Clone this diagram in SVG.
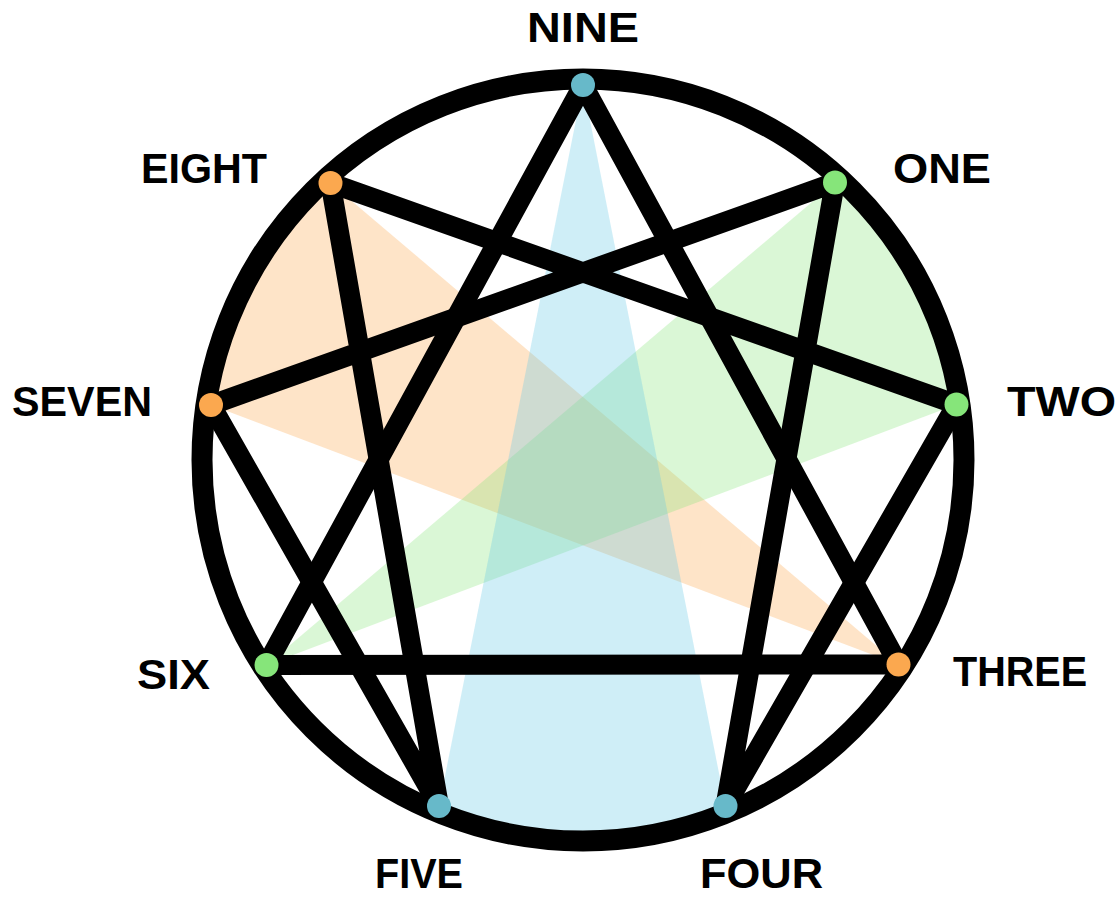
<svg xmlns="http://www.w3.org/2000/svg" width="1120" height="897" viewBox="0 0 1120 897">
  <style>
    .lbl { font-family: "Liberation Sans", Arial, sans-serif; font-weight: bold; font-size: 43px; fill: #000; }
    .ln { stroke: #000; stroke-width: 20; stroke-linecap: round; fill: none; }
    .ring { stroke: #000; stroke-width: 21; fill: none; }
    .blue { fill: #64C8E6; fill-opacity: 0.31; }
    .orange { fill: #FBA84F; fill-opacity: 0.31; }
    .green { fill: #86E57A; fill-opacity: 0.31; }
    .dblue { fill: #67B9C9; }
    .dorange { fill: #FBA84F; }
    .dgreen { fill: #86E57A; }
  </style>
  <rect width="1120" height="897" fill="#fff"/>
  <g id="fills">
    <path class="orange" d="M898.5,664.5 L211,405 A376,376 0 0 1 330.5,183 Z"/>
    <path class="green" d="M266.5,665 L835,182.5 A376,376 0 0 1 956.5,404.5 Z"/>
    <path class="blue" d="M583,85 L725.5,806 A376,376 0 0 1 439,806 Z"/>
  </g>
  <g id="connectors">
    <circle class="ring" cx="583" cy="460" r="381"/>
    <polygon class="ln" stroke-linejoin="round" points="583,85 898.5,664.5 266.5,665"/>
    <polygon class="ln" stroke-linejoin="round" points="835,182.5 725.5,806 956.5,404.5 330.5,183 439,806 211,405"/>
  </g>
  <g id="node-nine"><circle class="dblue" cx="583" cy="85" r="12"/><text class="lbl" x="527" y="42" textLength="112" lengthAdjust="spacingAndGlyphs">NINE</text></g>
  <g id="node-one"><circle class="dgreen" cx="835" cy="182.5" r="12"/><text class="lbl" x="893" y="183" textLength="98" lengthAdjust="spacingAndGlyphs">ONE</text></g>
  <g id="node-two"><circle class="dgreen" cx="956.5" cy="404.5" r="12"/><text class="lbl" x="1007" y="415.5" textLength="109" lengthAdjust="spacingAndGlyphs">TWO</text></g>
  <g id="node-three"><circle class="dorange" cx="898.5" cy="664.5" r="12"/><text class="lbl" x="953" y="686" textLength="134" lengthAdjust="spacingAndGlyphs">THREE</text></g>
  <g id="node-four"><circle class="dblue" cx="725.5" cy="806" r="12"/><text class="lbl" x="700" y="887.5" textLength="123" lengthAdjust="spacingAndGlyphs">FOUR</text></g>
  <g id="node-five"><circle class="dblue" cx="439" cy="806" r="12"/><text class="lbl" x="375" y="887.5" textLength="88" lengthAdjust="spacingAndGlyphs">FIVE</text></g>
  <g id="node-six"><circle class="dgreen" cx="266.5" cy="665" r="12"/><text class="lbl" x="137" y="689" textLength="73" lengthAdjust="spacingAndGlyphs">SIX</text></g>
  <g id="node-seven"><circle class="dorange" cx="211" cy="405" r="12"/><text class="lbl" x="12" y="416" textLength="140" lengthAdjust="spacingAndGlyphs">SEVEN</text></g>
  <g id="node-eight"><circle class="dorange" cx="330.5" cy="183" r="12"/><text class="lbl" x="141" y="183" textLength="126" lengthAdjust="spacingAndGlyphs">EIGHT</text></g>
</svg>
